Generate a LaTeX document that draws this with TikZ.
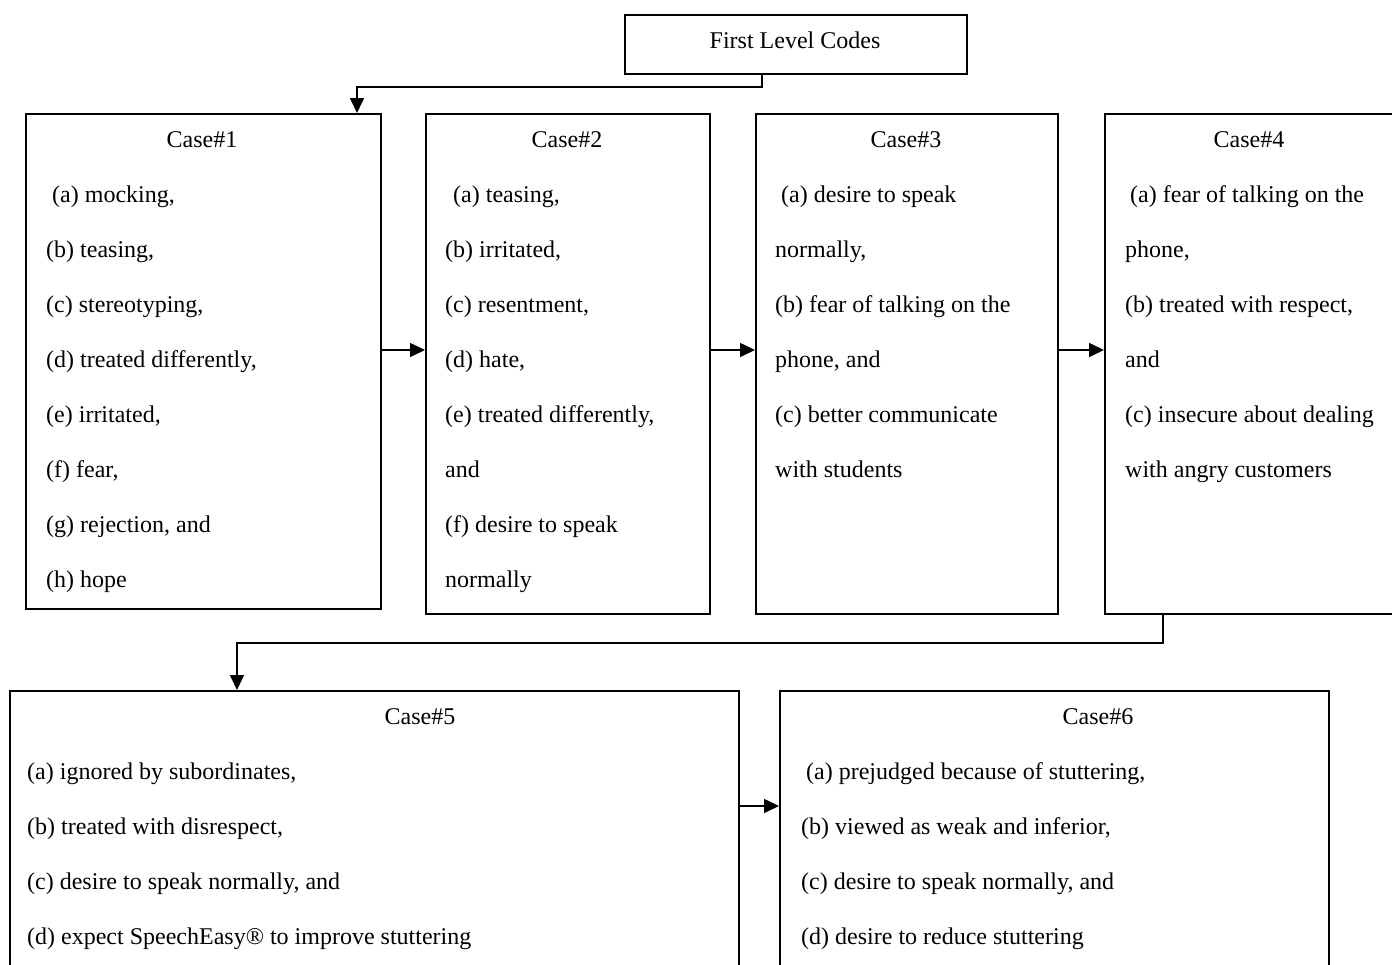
\documentclass[tikz,border=0pt]{standalone}
\usepackage{fontspec}
\setmainfont{Liberation Serif}
\usetikzlibrary{arrows.meta}
\begin{document}
\begin{tikzpicture}[x=1pt,y=-1pt,
  box/.style={draw,line width=1.6pt,rectangle,inner sep=0pt,anchor=north west},
  arr/.style={line width=1.6pt,-{Triangle[length=15pt,width=14pt]}},
  txt/.style={anchor=base west,inner sep=0pt,font=\fontsize{24}{28}\selectfont},
  ttl/.style={anchor=base,inner sep=0pt,font=\fontsize{24}{28}\selectfont}]
\clip (0,0) rectangle (1392,964);

% boxes
\node[box,minimum width=342,minimum height=59] (flc) at (624,14) {};
\node[box,minimum width=355,minimum height=495] (case1) at (25,113) {};
\node[box,minimum width=284,minimum height=500] (case2) at (425,113) {};
\node[box,minimum width=302,minimum height=500] (case3) at (755,113) {};
\node[box,minimum width=292,minimum height=500] (case4) at (1104,113) {};
\node[box,minimum width=729,minimum height=320] (case5) at (9,690) {};
\node[box,minimum width=549,minimum height=320] (case6) at (779,690) {};

% titles
\node[ttl] (tflc) at (795,48) {First Level Codes};
\node[ttl] (t1) at (202,147) {Case\#1};
\node[ttl] (t2) at (567,147) {Case\#2};
\node[ttl] (t3) at (906,147) {Case\#3};
\node[ttl] (t4) at (1249,147) {Case\#4};
\node[ttl] (t5) at (420,724) {Case\#5};
\node[ttl] (t6) at (1098,724) {Case\#6};

% case 1
\node[txt] (c1a) at (52,202) {(a) mocking,};
\node[txt] (c1b) at (46,257) {(b) teasing,};
\node[txt] (c1c) at (46,312) {(c) stereotyping,};
\node[txt] (c1d) at (46,367) {(d) treated differently,};
\node[txt] (c1e) at (46,422) {(e) irritated,};
\node[txt] (c1f) at (46,477) {(f) fear,};
\node[txt] (c1g) at (46,532) {(g) rejection, and};
\node[txt] (c1h) at (46,587) {(h) hope};

% case 2
\node[txt] (c2a) at (453,202) {(a) teasing,};
\node[txt] (c2b) at (445,257) {(b) irritated,};
\node[txt] (c2c) at (445,312) {(c) resentment,};
\node[txt] (c2d) at (445,367) {(d) hate,};
\node[txt] (c2e) at (445,422) {(e) treated differently,};
\node[txt] (c2f) at (445,477) {and};
\node[txt] (c2g) at (445,532) {(f) desire to speak};
\node[txt] (c2h) at (445,587) {normally};

% case 3
\node[txt] (c3a) at (781,202) {(a) desire to speak};
\node[txt] (c3b) at (775,257) {normally,};
\node[txt] (c3c) at (775,312) {(b) fear of talking on the};
\node[txt] (c3d) at (775,367) {phone, and};
\node[txt] (c3e) at (775,422) {(c) better communicate};
\node[txt] (c3f) at (775,477) {with students};

% case 4
\node[txt] (c4a) at (1130,202) {(a) fear of talking on the};
\node[txt] (c4b) at (1125,257) {phone,};
\node[txt] (c4c) at (1125,312) {(b) treated with respect,};
\node[txt] (c4d) at (1125,367) {and};
\node[txt] (c4e) at (1125,422) {(c) insecure about dealing};
\node[txt] (c4f) at (1125,477) {with angry customers};

% case 5
\node[txt] (c5a) at (27,779) {(a) ignored by subordinates,};
\node[txt] (c5b) at (27,834) {(b) treated with disrespect,};
\node[txt] (c5c) at (27,889) {(c) desire to speak normally, and};
\node[txt] (c5d) at (27,944) {(d) expect SpeechEasy® to improve stuttering};

% case 6
\node[txt] (c6a) at (806,779) {(a) prejudged because of stuttering,};
\node[txt] (c6b) at (801,834) {(b) viewed as weak and inferior,};
\node[txt] (c6c) at (801,889) {(c) desire to speak normally, and};
\node[txt] (c6d) at (801,944) {(d) desire to reduce stuttering};

% connectors
\coordinate (j1) at (357,87);
\coordinate (j2) at (237,643);
\coordinate (r1) at (0,350);
\coordinate (r2) at (0,806);
\draw[arr] ([xshift=-34pt]flc.south) |- (j1) -- (j1 |- case1.north);
\draw[arr] (case1.east |- r1) -- (case2.west |- r1);
\draw[arr] (case2.east |- r1) -- (case3.west |- r1);
\draw[arr] (case3.east |- r1) -- (case4.west |- r1);
\draw[arr] ([xshift=59pt]case4.south west) |- (j2) -- (j2 |- case5.north);
\draw[arr] (case5.east |- r2) -- (case6.west |- r2);
\end{tikzpicture}
\end{document}
